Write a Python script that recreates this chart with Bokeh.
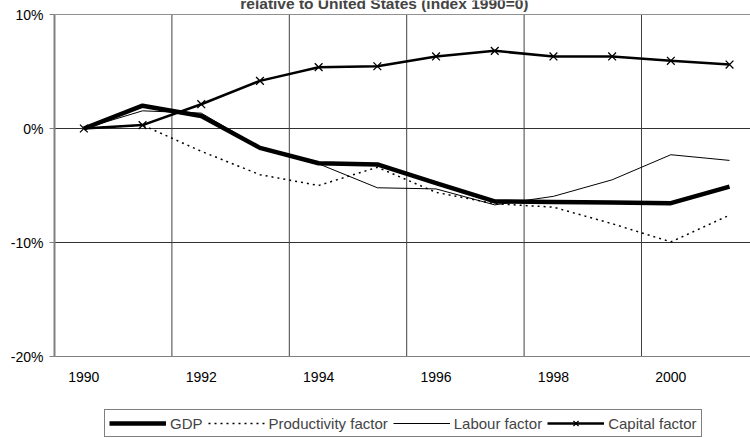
from bokeh.plotting import figure
from bokeh.layouts import column
from bokeh.models import FixedTicker, Legend, LegendItem, Label, Span
from bokeh.embed import file_html
from bokeh.resources import INLINE

years = [1990, 1991, 1992, 1993, 1994, 1995, 1996, 1997, 1998, 1999, 2000, 2001]
gdp = [0.0, 2.0, 1.1, -1.7, -3.05, -3.15, -4.8, -6.4, -6.45, -6.5, -6.55, -5.1]
productivity = [0.0, 0.3, -2.0, -4.05, -5.0, -3.4, -5.6, -6.6, -6.9, -8.35, -9.95, -7.6]
labour = [0.0, 1.55, 1.35, -1.65, -3.1, -5.2, -5.3, -6.7, -5.95, -4.5, -2.3, -2.8]
capital = [0.0, 0.3, 2.13, 4.18, 5.38, 5.46, 6.32, 6.81, 6.32, 6.32, 5.94, 5.61]
series_names = ["GDP", "Productivity factor", "Labour factor", "Capital factor"]
year_ticks = [1990, 1992, 1994, 1996, 1998, 2000]
y_ticks = [-20, -10, 0, 10]
y_tick_labels = {-20: "-20%", -10: "-10%", 0: "0%", 10: "10%"}
title_text = "relative to United States (index 1990=0)"
FONT = "Liberation Sans"
Y_MIN, Y_MAX = -20, 10

STYLES = [
    dict(line_color="black", line_width=4.5, line_join="round"),
    dict(line_color="black", line_width=1.5, line_dash="2 4"),
    dict(line_color="black", line_width=1),
    dict(line_color="black", line_width=2.5),
]
MARK = dict(marker="x", size=11, line_color="black", line_width=1.3)

# frame top at canvas top so that the (cropped) title can show above the 10% line
p = figure(width=750, height=400, output_backend="svg", toolbar_location=None,
           x_range=(1989.5, 2001.357), y_range=(Y_MIN, Y_MAX + 14 / 11.4),
           min_border_left=54, min_border_right=0, min_border_top=0, min_border_bottom=44,
           background_fill_color="white", border_fill_color="white")
p.outline_line_color = None

# axes
p.xaxis.ticker = FixedTicker(ticks=year_ticks)
p.xaxis.major_tick_line_color = None
p.xaxis.minor_tick_line_color = None
p.xaxis.axis_line_color = "#808080"
p.xaxis.axis_line_width = 1
p.xaxis.major_label_standoff = 9
p.xaxis.major_label_text_font = FONT
p.xaxis.major_label_text_font_size = "14px"
p.xaxis.major_label_text_color = "black"

p.yaxis.ticker = FixedTicker(ticks=y_ticks)
p.yaxis.bounds = (Y_MIN, Y_MAX)
p.yaxis.major_label_overrides = y_tick_labels
p.yaxis.axis_line_color = "#808080"
p.yaxis.axis_line_width = 2
p.yaxis.major_tick_line_color = "#808080"
p.yaxis.major_tick_out = 5
p.yaxis.major_tick_in = 0
p.yaxis.minor_tick_line_color = None
p.yaxis.major_label_standoff = 6
p.yaxis.major_label_text_font = FONT
p.yaxis.major_label_text_font_size = "14px"
p.yaxis.major_label_text_color = "black"

# grids
p.xgrid.visible = False
grid_x = [y + 0.5 for y in years[1::2]]
p.segment(x0=grid_x, y0=[Y_MIN] * len(grid_x), x1=grid_x, y1=[Y_MAX] * len(grid_x),
          line_color="#404040", line_width=1)
p.ygrid.ticker = FixedTicker(ticks=y_ticks)
p.ygrid.grid_line_color = "#303030"
p.ygrid.grid_line_width = 1
p.add_layout(Span(location=Y_MAX, dimension="width", line_color="#909090", line_width=1))

# series
for vals, st in zip([gdp, productivity, labour, capital], STYLES):
    p.line(years, vals, **st)
p.scatter(years, capital, **MARK)

p.add_layout(Label(x=1995.12, y=10.95, text=title_text, text_align="center",
                   text_baseline="alphabetic", text_font=FONT,
                   text_font_style="bold", text_font_size="15.5px"))

# legend strip (series drawn again outside its visible range so the legend has glyphs)
q = figure(width=750, height=38, output_backend="svg", toolbar_location=None,
           x_axis_type=None, y_axis_type=None, x_range=(0, 1), y_range=(0, 1),
           min_border_left=0, min_border_right=0, min_border_top=0,
           min_border_bottom=0, background_fill_color="white", border_fill_color="white")
q.outline_line_color = None
q.grid.visible = False
items = []
for name, vals, st in zip(series_names, [gdp, productivity, labour, capital], STYLES):
    rs = [q.line(years, vals, **st)]
    if name == "Capital factor":
        rs.append(q.scatter(years, vals, **MARK))
    items.append(LegendItem(label=name, renderers=rs))

legend = Legend(items=items, orientation="horizontal", location=(50, 1),
                glyph_width=57, glyph_height=18, label_height=18, label_standoff=4,
                spacing=5, padding=4, margin=0,
                label_text_font=FONT, label_text_font_size="15px",
                border_line_color="black", border_line_width=1,
                background_fill_color="white", background_fill_alpha=1)
q.add_layout(legend, "center")

layout = column(p, q, spacing=0)
open("out.html", "w").write(file_html(layout, INLINE))
